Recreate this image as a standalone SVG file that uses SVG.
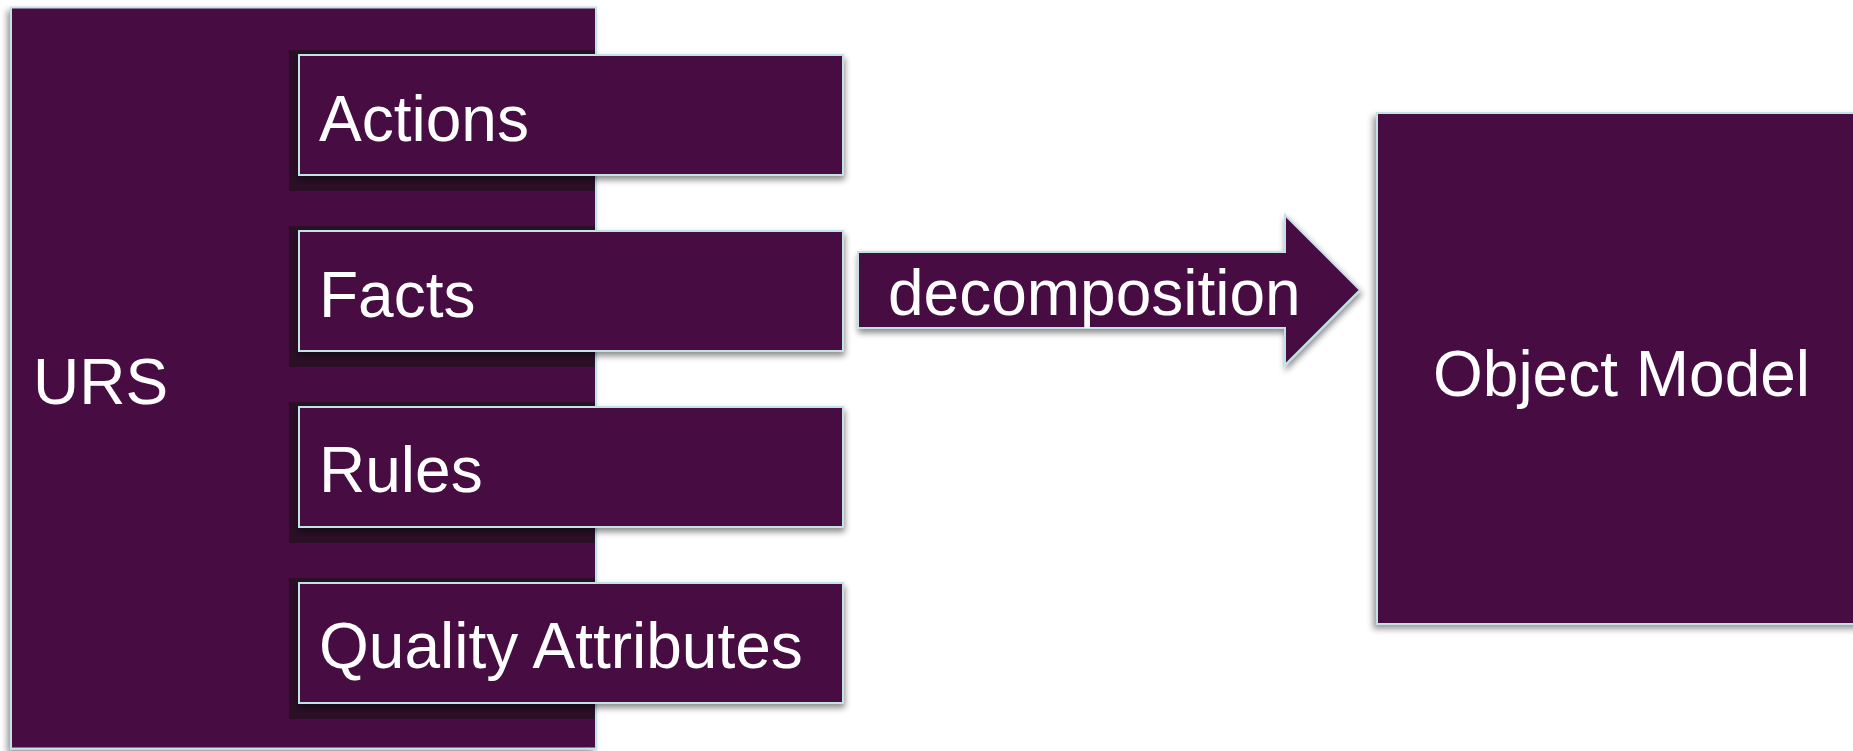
<svg xmlns="http://www.w3.org/2000/svg" width="1853" height="751" viewBox="0 0 1853 751">
  <style>
    .box { fill: #460d42; stroke: #c3e2e6; stroke-width: 2; }
    .shade { fill: #2a0f27; }
    .lbl { font-family: "Liberation Sans", Arial, sans-serif; font-size: 64px; fill: #ffffff; }
  </style>
  <defs>
    <filter id="ds" x="-10%" y="-10%" width="120%" height="130%">
      <feDropShadow dx="1" dy="4" stdDeviation="3" flood-color="#000000" flood-opacity="0.45"/>
    </filter>
    <filter id="dsl" x="-10%" y="-10%" width="120%" height="130%">
      <feDropShadow dx="-3" dy="4" stdDeviation="3" flood-color="#000000" flood-opacity="0.4"/>
    </filter>
    <clipPath id="ursClip">
      <rect x="12" y="8.5" width="583" height="739"/>
    </clipPath>
  </defs>
  <rect width="1853" height="751" fill="#ffffff"/>

  <g id="urs">
    <rect class="box" x="11" y="7.5" width="585" height="741" filter="url(#dsl)"/>
    <text class="lbl" x="33" y="404">URS</text>
  </g>

  <g id="shades" clip-path="url(#ursClip)">
    <rect class="shade" x="289" y="50" width="310" height="141"/>
    <rect class="shade" x="289" y="226" width="310" height="141"/>
    <rect class="shade" x="289" y="402" width="310" height="141"/>
    <rect class="shade" x="289" y="578" width="310" height="141"/>
  </g>

  <g id="actions">
    <rect class="box" x="299" y="55" width="544" height="120" filter="url(#ds)"/>
    <text class="lbl" x="319" y="141">Actions</text>
  </g>
  <g id="facts">
    <rect class="box" x="299" y="231" width="544" height="120" filter="url(#ds)"/>
    <text class="lbl" x="319" y="317">Facts</text>
  </g>
  <g id="rules">
    <rect class="box" x="299" y="407" width="544" height="120" filter="url(#ds)"/>
    <text class="lbl" x="319" y="492">Rules</text>
  </g>
  <g id="quality-attributes">
    <rect class="box" x="299" y="583" width="544" height="120" filter="url(#ds)"/>
    <text class="lbl" x="319" y="668">Quality Attributes</text>
  </g>

  <g id="object-model">
    <rect class="box" x="1377" y="113" width="490" height="511" filter="url(#dsl)"/>
    <text class="lbl" x="1433" y="396">Object Model</text>
  </g>

  <g id="connectors">
    <polygon class="box" points="858,252 1285,252 1285,215 1360,290 1285,365 1285,328 858,328" filter="url(#ds)"/>
    <text class="lbl" x="888" y="315">decomposition</text>
  </g>
</svg>
